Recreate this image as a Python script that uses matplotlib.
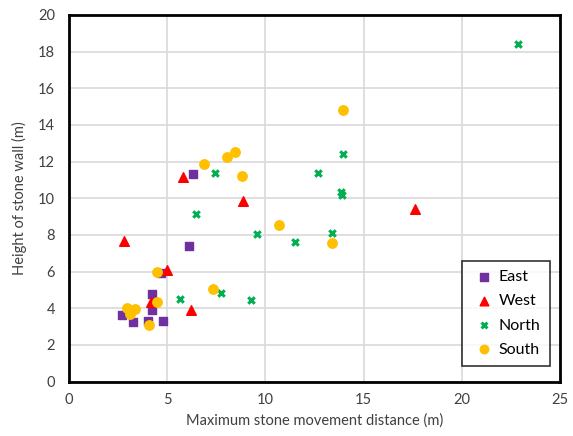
import matplotlib.pyplot as plt

plt.rcParams['font.family'] = ['Lato', 'DejaVu Sans']

east_x = [6.3, 6.1, 4.7, 4.25, 4.25, 2.7, 3.25, 4.0, 4.8]
east_y = [11.35, 7.4, 5.9, 4.76, 3.9, 3.62, 3.22, 3.3, 3.3]

west_x = [5.82, 8.84, 2.8, 5.0, 4.15, 6.2, 17.6]
west_y = [11.15, 9.83, 7.64, 6.07, 4.33, 3.92, 9.41]

north_x = [7.43, 22.85, 13.95, 12.7, 13.85, 13.9, 13.4, 6.47, 9.56, 11.5, 5.67, 7.72, 9.25]
north_y = [11.39, 18.42, 12.41, 11.38, 10.35, 10.2, 8.13, 9.12, 8.04, 7.59, 4.49, 4.82, 4.44]

south_x = [6.87, 8.04, 8.45, 8.81, 13.95, 13.4, 10.7, 4.48, 4.5, 7.32, 2.95, 3.35, 3.1, 4.07]
south_y = [11.85, 12.25, 12.52, 11.19, 14.82, 7.55, 8.55, 5.95, 4.35, 5.05, 4.03, 3.96, 3.67, 3.07]


def graph():
    fig = plt.figure(figsize=(5.73, 4.36), dpi=100)
    ax = fig.add_axes([0.1204, 0.125, 0.857, 0.8406])

    ax.scatter(east_x, east_y, marker='s', s=36, color='#7030A0', label='East', zorder=3)
    ax.scatter(west_x, west_y, marker='^', s=48, color='#FF0000', label='West', zorder=3)
    ax.scatter(north_x, north_y, marker='x', s=22, linewidths=2.2, color='#00B050', label='North', zorder=3)
    ax.scatter(south_x, south_y, marker='o', s=46, color='#FFC000', label='South', zorder=3)

    ax.set_xlim(0, 25)
    ax.set_ylim(0, 20)
    ax.set_xticks(range(0, 26, 5))
    ax.set_yticks(range(0, 21, 2))
    ax.grid(True, color='#d9d9d9', linewidth=1.2)
    ax.set_axisbelow(True)
    for sp in ax.spines.values():
        sp.set_linewidth(2)
        sp.set_color('black')
    ax.tick_params(length=0, labelsize=10.5, pad=8, colors='#404040')
    ax.tick_params(axis='y', pad=10)

    ax.set_xlabel('Maximum stone movement distance (m)', fontsize=10.5, color='#404040', labelpad=5)
    ax.set_ylabel('Height of stone wall (m)', fontsize=10.5, color='#404040', labelpad=8)

    leg = ax.legend(loc='lower left', bbox_to_anchor=(0.784, 0.02), fontsize=11.5,
                    frameon=True, fancybox=False, edgecolor='black',
                    labelspacing=0.62, handletextpad=0.1, borderpad=0.6,
                    handlelength=1.6, scatterpoints=1, markerscale=0.9)
    leg.get_frame().set_linewidth(1.2)

    fig.savefig('out.png', dpi=100)


graph()
